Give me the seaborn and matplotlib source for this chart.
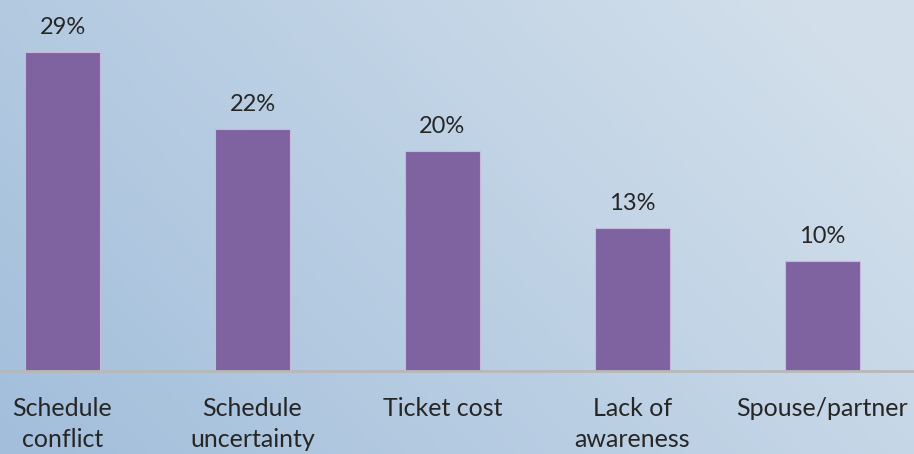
import numpy as np
import pandas as pd
import matplotlib
matplotlib.use("Agg")
import matplotlib.pyplot as plt
import seaborn as sns
from matplotlib.colors import LinearSegmentedColormap

categories = ["Schedule\nconflict", "Schedule\nuncertainty", "Ticket cost",
              "Lack of\nawareness", "Spouse/partner"]
values = [29, 22, 20, 13, 10]
value_labels = ["29%", "22%", "20%", "13%", "10%"]

df = pd.DataFrame({"reason": categories, "pct": values})

sns.set_theme(style="white")
plt.rcParams["font.family"] = ["Lato", "DejaVu Sans"]

fig = plt.figure(figsize=(9.14, 4.54), dpi=100)

# soft blue gradient backdrop
bg = fig.add_axes([0, 0, 1, 1], zorder=0)
xx, yy = np.meshgrid(np.linspace(0, 1, 300), np.linspace(0, 1, 150))
t = np.clip(0.75 * xx + 0.35 * yy, 0, 1) / 1.1
cmap = LinearSegmentedColormap.from_list("bgblue", ["#a2bedb", "#d2dfeb"])
bg.imshow(t, cmap=cmap, aspect="auto", origin="lower", extent=[0, 1, 0, 1])
bg.set_axis_off()

ax = fig.add_axes([0, 83 / 454, 1, 371 / 454], zorder=1)
ax.patch.set_alpha(0)
sns.barplot(data=df, x="reason", y="pct", color="#7f62a0", saturation=1,
            width=0.395, edgecolor="#c9b8dc", linewidth=0.8, ax=ax)

ax.set_xlim(-0.329, 4.482)
ax.set_ylim(0, 33.7)
ax.axhline(0, color="#b8b8b8", lw=2, clip_on=False)

for i, (v, lab) in enumerate(zip(values, value_labels)):
    ax.annotate(lab, (i, v), xytext=(0, 10), textcoords="offset points",
                ha="center", va="bottom", fontsize=17, color="#262626")

ax.set_xlabel("")
ax.set_ylabel("")
ax.set_yticks([])
ax.tick_params(axis="x", length=0, pad=19, labelsize=18, labelcolor="#262626")
for lbl in ax.get_xticklabels():
    lbl.set_linespacing(1.42)
    lbl.set_va("top")
sns.despine(ax=ax, left=True, bottom=True, top=True, right=True)

fig.savefig("out.png", dpi=100)
